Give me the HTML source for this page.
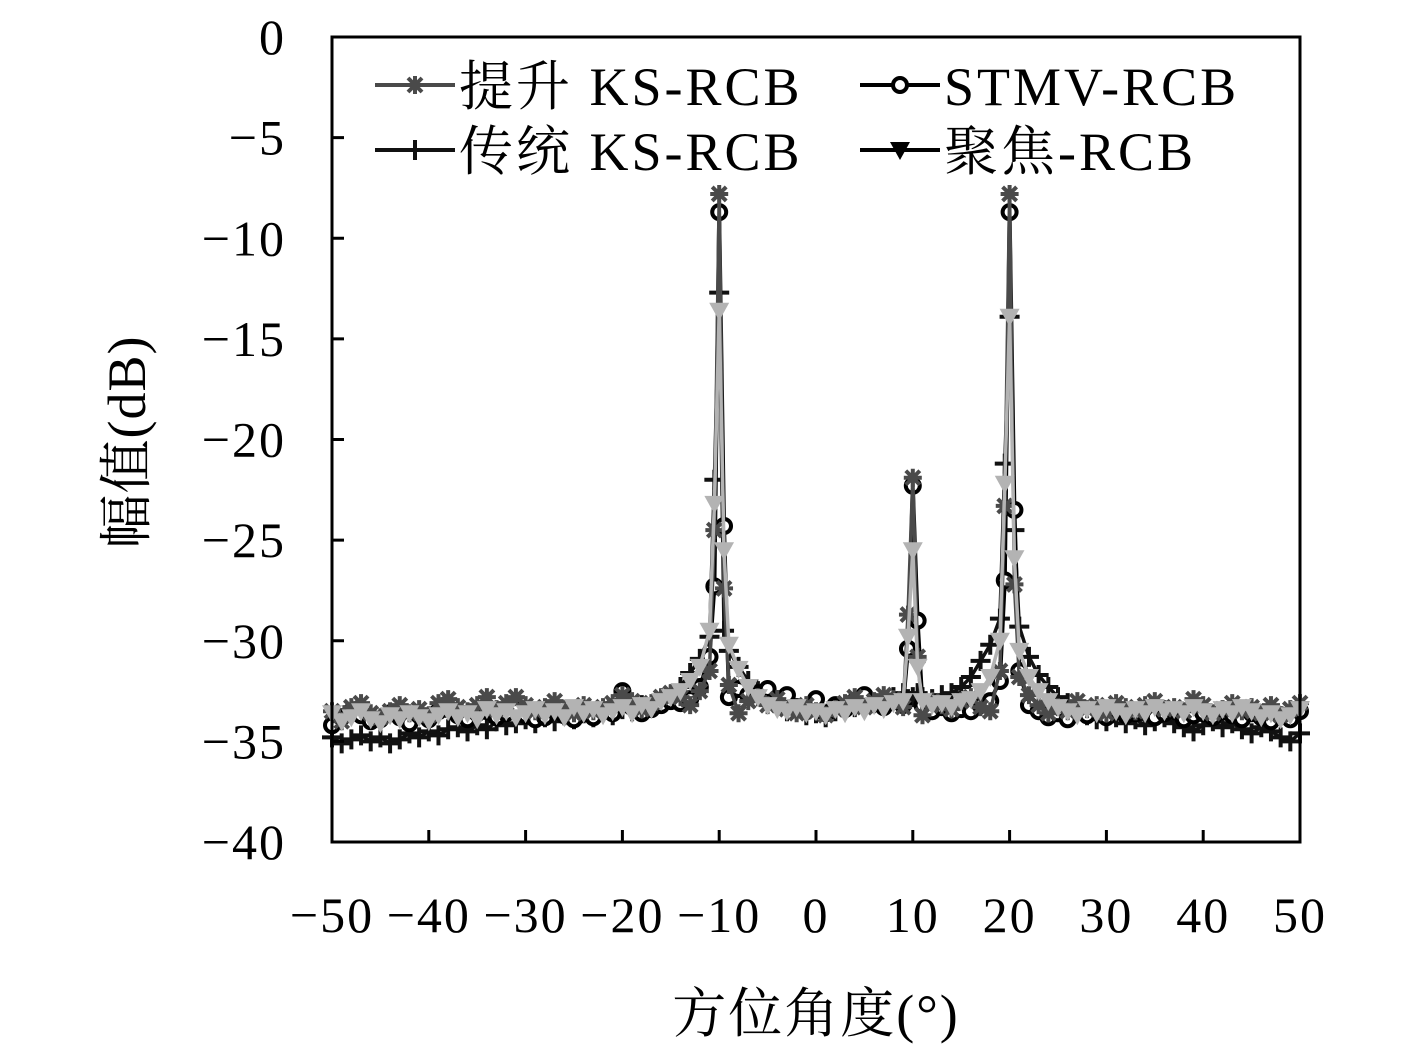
<!DOCTYPE html>
<html><head><meta charset="utf-8"><style>
html,body{margin:0;padding:0;background:#fff}
svg text{font-family:"Liberation Serif","Noto Serif CJK SC","Noto Sans CJK SC",serif;fill:#000}
</style></head><body>
<svg id="chart" width="1417" height="1049" xmlns="http://www.w3.org/2000/svg">
<rect x="0" y="0" width="1417" height="1049" fill="#fff"/>
<g id="marks"></g>
<rect x="332" y="37" width="968" height="805" fill="none" stroke="#000" stroke-width="3"/>
<g id="axes"></g>
<text transform="translate(145,442) rotate(-90)" text-anchor="middle" font-size="54" letter-spacing="1">幅值(dB)</text>
<text x="816" y="1032" text-anchor="middle" font-size="54" letter-spacing="2">方位角度(°)</text>
<g id="legend"></g>
</svg>
<script>
const angles = [];
for (let a=-50;a<=-11;a++) angles.push(a);
angles.push(-10.5,-10,-9.5);
for (let a=-9;a<=9;a++) angles.push(a);
angles.push(9.5,10,10.5);
for (let a=11;a<=19;a++) angles.push(a);
angles.push(19.5,20,20.5);
for (let a=21;a<=50;a++) angles.push(a);

const improvedKS = [-33.5,-34,-33.3,-33.1,-33.6,-33.8,-33.5,-33.2,-33.6,-33.4,-33.7,-33.1,-32.9,-33.3,-33.5,-33.2,-32.8,-33.4,-33.1,-32.8,-33.2,-33.5,-33.3,-33,-33.4,-33.6,-33.2,-33.5,-33.3,-33.1,-32.7,-33,-33.4,-33.1,-32.8,-32.6,-32.8,-33.2,-32.5,-31.5,
 -24.5,-7.8,-27.4,
 -32.2,-33.6,-33,-32.8,-33.2,-32.9,-33.4,-33.6,-33.2,-33.5,-33.7,-33.4,-33.1,-32.8,-33.3,-33,-32.7,-32.9,-33.3,
 -28.7,-21.9,-30.8,
 -33.7,-33,-33.2,-33.4,-33,-32.8,-33.3,-33.5,-31.5,
 -23.3,-7.8,-27.2,
 -31.8,-32.7,-33.2,-33.6,-33.3,-33.5,-33,-33.4,-33.2,-33.6,-33.1,-33.3,-33.5,-33.2,-33,-33.4,-33.3,-33.5,-32.9,-33.2,-33.6,-33.4,-33.1,-33.5,-33.3,-33.6,-33.2,-33.7,-33.4,-33.1];
const stmv = [-34.2,-33.8,-33.5,-33.7,-34,-33.9,-33.6,-33.8,-34.1,-33.7,-33.9,-33.5,-33.4,-33.7,-33.9,-33.6,-33.5,-33.8,-33.6,-33.4,-33.7,-33.9,-33.8,-33.5,-33.7,-33.9,-33.6,-33.8,-33.5,-33.6,-32.5,-33.3,-33.6,-33.4,-33.2,-33,-33.1,-32.9,-32.3,-30.8,
 -27.3,-8.7,-24.3,
 -32.8,-32.4,-32.7,-32.6,-32.4,-32.9,-32.7,-33.3,-33.5,-32.9,-33.6,-33.2,-33.4,-33,-32.7,-33.1,-33.3,-33,-33.2,
 -30.4,-22.3,-29,
 -33.2,-33.5,-33.3,-33.6,-33.4,-33.5,-33.2,-33,-32,
 -27,-8.7,-23.5,
 -31.5,-33.2,-33.5,-33.8,-33.6,-33.9,-33.5,-33.7,-33.4,-33.8,-33.5,-33.7,-33.6,-33.4,-33.8,-33.6,-33.5,-33.9,-33.7,-33.6,-33.8,-33.5,-33.7,-33.9,-33.6,-33.8,-34,-33.7,-33.9,-33.5];
const traditionalKS = [-34.8,-35.1,-34.9,-34.7,-35,-34.8,-35.1,-34.9,-34.6,-34.8,-34.5,-34.7,-34.4,-34.3,-34.5,-34.2,-34.4,-34,-34.2,-34.1,-33.9,-34.1,-33.8,-34,-33.7,-33.9,-33.6,-33.8,-33.5,-33.7,-33.4,-33.5,-33.2,-33.3,-32.9,-32.7,-32.3,-31.6,-30.9,-29.8,
 -22,-12.7,-29.5,
 -30.5,-31.3,-32,-32.5,-32.9,-33.2,-33.5,-33.4,-33.7,-33.6,-33.8,-33.5,-33.4,-33.3,-33.2,-33.1,-33,-32.8,-32.6,
 -32.9,-32.8,-32.6,
 -32.8,-32.9,-32.7,-32.6,-32.3,-31.8,-31,-30.2,-28.9,
 -21.2,-13.9,-24.5,
 -29.3,-30.8,-31.7,-32.3,-32.8,-33.1,-33.5,-33.7,-33.9,-34,-33.8,-34.1,-33.9,-34.2,-34,-33.8,-34.1,-34.3,-34.5,-34.2,-34,-34.3,-34.1,-34.4,-34.6,-34.3,-34.5,-34.8,-35,-34.6];
const focusedRCB = [-33.6,-34,-33.8,-33.5,-33.9,-34.1,-33.7,-33.9,-33.6,-33.8,-34,-33.7,-33.5,-33.8,-33.6,-33.9,-33.4,-33.7,-33.5,-33.8,-33.6,-33.4,-33.7,-33.5,-33.8,-33.3,-33.6,-33.4,-33.7,-33.5,-33.3,-33.6,-33.2,-33.4,-33,-32.8,-32.5,-32,-31.3,-29.5,
 -23.2,-13.6,-25.5,
 -30.2,-31.4,-32.3,-32.8,-33.2,-33.4,-33.5,-33.3,-33.6,-33.5,-33.7,-33.4,-33.6,-33.3,-33.5,-33.2,-33.4,-33.1,-33,
 -29.8,-25.5,-31.3,
 -33,-33.2,-33.1,-33.3,-33,-32.9,-32.5,-31.8,-30,
 -22.2,-13.9,-25.9,
 -30.5,-31.8,-32.5,-33,-33.3,-33.5,-33.7,-33.4,-33.6,-33.3,-33.5,-33.7,-33.4,-33.6,-33.3,-33.5,-33.4,-33.6,-33.3,-33.5,-33.7,-33.4,-33.6,-33.3,-33.5,-33.8,-33.6,-33.9,-33.7,-33.4];
const xTicks = [-50,-40,-30,-20,-10,0,10,20,30,40,50];
const yTicks = [0,-5,-10,-15,-20,-25,-30,-35,-40];

const NS="http://www.w3.org/2000/svg";
const X0=332,X1=1300,Y0=37,Y1=842;
function xs(v){return X0+(v+50)/100*(X1-X0);}
function ys(v){return Y0+(0-v)/40*(Y1-Y0);}
function mk(tag,attrs,parent){const e=document.createElementNS(NS,tag);for(const k in attrs)e.setAttribute(k,attrs[k]);parent.appendChild(e);return e;}
const marks=document.getElementById('marks'), axes=document.getElementById('axes'), legend=document.getElementById('legend');

function marker(type,x,y,color,g){
  let e;
  if(type==='plus'){
    e=mk('path',{d:`M${x-10},${y}H${x+10}M${x},${y-10}V${y+10}`,stroke:color,'stroke-width':4,fill:'none'},g);
  }else if(type==='circle'){
    e=mk('circle',{cx:x,cy:y,r:7,stroke:color,'stroke-width':4,fill:'#fff'},g);
  }else if(type==='star'){
    e=mk('path',{d:`M${x-9},${y}H${x+9}M${x},${y-9}V${y+9}M${x-7},${y-7}L${x+7},${y+7}M${x-7},${y+7}L${x+7},${y-7}`,stroke:color,'stroke-width':4,fill:'none'},g);
  }else{
    e=mk('path',{d:`M${x-10},${y-8}L${x+10},${y-8}L${x},${y+10}Z`,fill:color,stroke:'none'},g);
  }
  
  
}

const series=[
 {name:'traditional-ks-rcb',vals:traditionalKS,color:'#111',type:'plus',w:3.5},
 {name:'stmv-rcb',vals:stmv,color:'#000',type:'circle',w:4},
 {name:'improved-ks-rcb',vals:improvedKS,color:'#4a4a4a',type:'star',w:3.5},
 {name:'focused-rcb',vals:focusedRCB,color:'#b3b3b3',type:'tri',w:3.5}
];
series.forEach(s=>{
  const g=mk('g',{},marks);
  
  
  const n=Math.min(angles.length,s.vals.length);
  let d='';
  for(let i=0;i<n;i++){d+=(i?'L':'M')+xs(angles[i]).toFixed(1)+','+ys(s.vals[i]).toFixed(1);}
  const p=mk('path',{d:d,fill:'none',stroke:s.color,'stroke-width':s.w,'stroke-linejoin':'round'},g);
  
  
  for(let i=0;i<n;i++) marker(s.type,xs(angles[i]),ys(s.vals[i]),s.color,g);
});

xTicks.forEach(t=>{
  const x=xs(t);
  const l=mk('line',{x1:x,y1:Y1,x2:x,y2:Y1-12,stroke:'#000','stroke-width':3},axes);
  
  
  const tx=mk('text',{x:x,y:932,'text-anchor':'middle','font-size':50,'letter-spacing':2},axes);
  tx.textContent=(t<0?'\u2212':'')+Math.abs(t);
  
  
});
yTicks.forEach(t=>{
  const y=ys(t);
  const l=mk('line',{x1:X0,y1:y,x2:X0+12,y2:y,stroke:'#000','stroke-width':3},axes);
  
  
  const tx=mk('text',{x:286,y:y+17,'text-anchor':'end','font-size':50,'letter-spacing':2},axes);
  tx.textContent=(t<0?'\u2212':'')+Math.abs(t);
  
  
});

const legendItems=[
 {label:'提升 KS-RCB',x:375,y:85,color:'#4a4a4a',type:'star'},
 {label:'STMV-RCB',x:860,y:85,color:'#000',type:'circle'},
 {label:'传统 KS-RCB',x:375,y:150,color:'#111',type:'plus'},
 {label:'聚焦-RCB',x:860,y:150,color:'#000',type:'tri'}
];
legendItems.forEach(it=>{
  const g=mk('g',{},legend);
  
  
  mk('line',{x1:it.x,y1:it.y,x2:it.x+80,y2:it.y,stroke:it.color,'stroke-width':4},g);
  marker(it.type,it.x+40,it.y,it.color,g);
  const t=mk('text',{x:it.x+84,y:it.y+20,'font-size':54,'letter-spacing':3},g);
  t.textContent=it.label;
  
  
});
</script>
</body></html>
